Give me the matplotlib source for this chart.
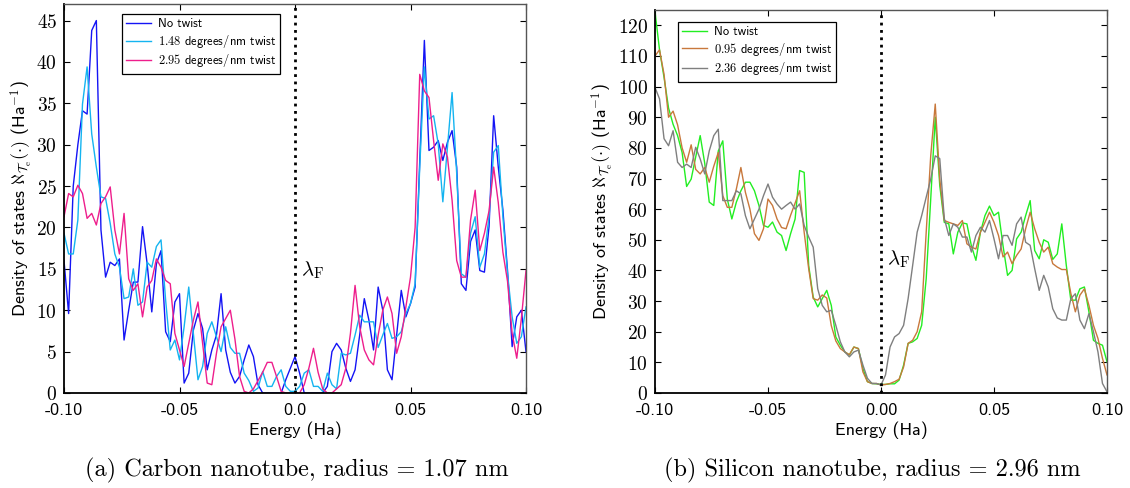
import matplotlib
matplotlib.use("Agg")
import matplotlib.pyplot as plt
import numpy as np

plt.rcParams['mathtext.fontset'] = 'cm'

# energy grid (Ha), 101 bins from -0.1 to 0.1
energy = np.linspace(-0.1, 0.1, 101)

# carbon nanotube, radius 1.07 nm
carbon_no_twist = [
  16.0, 9.6, 25.0, 30.0, 34.1, 33.7, 43.8, 45.0, 19.7, 14.0,
  15.8, 15.4, 16.2, 6.4, 10.0, 13.4, 13.4, 20.1, 15.6, 9.8,
  15.6, 17.2, 7.4, 6.2, 11.0, 12.0, 1.2, 2.4, 7.6, 9.6,
  7.8, 2.8, 5.2, 7.0, 12.0, 5.2, 2.5, 1.2, 2.0, 4.0,
  5.8, 4.4, 1.0, 0.0, 0.0, 0.0, 0.0, 0.0, 1.6, 3.0,
  4.4, 2.4, 0.0, 0.0, 0.0, 0.0, 0.0, 0.8, 5.0, 6.0,
  5.2, 3.0, 1.4, 2.8, 7.0, 11.4, 8.8, 5.2, 12.8, 10.0,
  2.8, 1.6, 7.0, 12.4, 9.2, 10.8, 12.8, 28.0, 42.6, 29.3,
  29.7, 30.5, 28.1, 30.3, 31.7, 27.3, 13.2, 12.4, 18.3, 19.7,
  14.8, 14.6, 20.1, 33.5, 27.3, 22.1, 14.8, 5.6, 9.2, 10.0,
  5.0]
carbon_148 = [
  19.3, 16.8, 16.8, 20.9, 34.9, 39.4, 31.3, 27.3, 23.7, 23.5,
  20.5, 16.8, 15.2, 11.4, 11.6, 15.0, 10.6, 11.0, 15.8, 15.2,
  17.7, 18.5, 11.2, 5.2, 6.4, 4.0, 8.0, 12.8, 7.2, 1.6,
  3.2, 7.2, 8.6, 6.8, 5.0, 8.0, 5.5, 4.8, 4.8, 2.4,
  1.5, 0.2, 0.6, 2.6, 0.8, 0.8, 2.0, 2.8, 0.8, 0.2,
  0.2, 0.8, 2.4, 2.8, 0.8, 0.8, 0.2, 2.4, 1.0, 0.5,
  4.8, 4.6, 4.8, 7.0, 9.4, 8.6, 8.6, 8.6, 5.5, 7.0,
  8.4, 6.6, 6.8, 7.4, 9.6, 10.8, 13.2, 27.3, 39.4, 33.1,
  33.5, 30.1, 23.1, 29.7, 36.3, 26.5, 14.4, 14.0, 19.3, 21.3,
  15.2, 16.8, 21.3, 29.1, 29.9, 21.3, 14.4, 9.2, 6.0, 6.8,
  10.4]
carbon_295 = [
  21.3, 24.1, 23.7, 25.1, 24.1, 21.1, 21.7, 20.3, 22.9, 23.7,
  24.9, 19.7, 16.8, 21.7, 13.8, 12.4, 13.2, 9.2, 12.8, 13.6,
  16.2, 15.2, 13.6, 13.2, 7.2, 5.2, 3.2, 6.0, 8.8, 11.0,
  6.0, 1.2, 1.0, 4.8, 8.0, 9.0, 10.0, 6.5, 2.0, 0.2,
  0.0, 0.5, 1.5, 2.5, 3.7, 3.7, 2.0, 0.2, 0.0, 0.0,
  0.0, 0.0, 1.0, 3.0, 5.4, 2.5, 0.5, 0.0, 0.0, 0.5,
  1.0, 3.0, 7.2, 13.0, 8.0, 5.2, 4.0, 3.4, 7.0, 10.0,
  11.6, 9.6, 4.8, 6.8, 10.4, 14.0, 20.0, 38.5, 36.5, 35.7,
  30.5, 25.7, 30.1, 28.5, 23.3, 16.0, 14.0, 14.0, 20.9, 24.5,
  17.2, 19.3, 22.0, 27.3, 23.0, 17.0, 13.5, 7.2, 4.2, 9.0,
  14.8]

# silicon nanotube, radius 2.96 nm
silicon_no_twist = [
  124.5, 112.0, 103.0, 93.0, 87.7, 84.0, 78.5, 67.4, 69.8, 77.0,
  84.0, 75.0, 62.3, 61.2, 79.0, 82.3, 63.3, 56.8, 62.3, 66.0,
  68.8, 68.8, 66.0, 61.2, 54.7, 54.1, 55.8, 52.5, 51.4, 46.5,
  52.0, 56.8, 72.6, 72.0, 41.6, 31.3, 28.1, 30.8, 33.5, 28.6,
  18.3, 15.6, 13.4, 12.4, 15.0, 14.5, 8.0, 3.7, 3.1, 3.0,
  2.8, 2.8, 3.0, 3.0, 4.2, 9.1, 16.2, 16.7, 17.8, 22.1,
  37.3, 63.3, 90.0, 67.7, 55.7, 55.2, 45.4, 52.5, 55.5, 55.2,
  48.0, 43.3, 52.5, 57.9, 61.0, 57.9, 59.0, 48.0, 38.4, 40.0,
  50.3, 52.5, 57.9, 62.8, 46.5, 43.8, 50.0, 49.2, 43.6, 45.4,
  55.2, 41.6, 30.3, 30.3, 34.0, 34.6, 26.5, 17.2, 16.2, 15.6,
  10.2]
silicon_095 = [
  110.0, 112.0, 104.0, 90.0, 92.0, 87.5, 80.0, 75.3, 81.0, 73.0,
  71.5, 73.6, 68.8, 74.0, 78.5, 64.4, 60.6, 60.6, 66.6, 73.6,
  65.5, 60.0, 52.0, 49.8, 53.6, 63.3, 61.2, 56.8, 54.0, 53.6,
  58.0, 62.0, 66.0, 52.5, 40.6, 30.8, 30.3, 32.0, 31.0, 22.0,
  17.0, 14.5, 13.4, 12.5, 15.0, 14.5, 6.9, 3.7, 3.1, 3.1,
  2.6, 2.8, 3.1, 3.7, 4.5, 8.5, 16.2, 17.2, 20.0, 26.5,
  52.5, 77.4, 94.3, 69.8, 56.3, 55.7, 55.2, 54.7, 56.3, 48.7,
  47.6, 47.0, 52.5, 55.7, 59.0, 55.7, 51.4, 44.4, 46.0, 42.2,
  44.9, 47.0, 53.6, 59.0, 53.6, 49.2, 46.0, 47.6, 42.2, 41.1,
  40.3, 40.3, 32.5, 26.5, 31.9, 34.0, 28.6, 22.1, 17.8, 11.3,
  5.9]
silicon_236 = [
  99.7, 96.0, 83.0, 80.7, 85.6, 75.3, 73.6, 74.7, 73.6, 80.2,
  76.4, 71.5, 79.0, 84.0, 86.1, 62.8, 62.8, 62.8, 66.0, 65.0,
  57.9, 53.6, 56.8, 60.0, 64.4, 68.2, 63.9, 61.7, 60.0, 61.2,
  62.3, 60.0, 61.7, 54.7, 50.9, 47.6, 34.0, 28.6, 26.5, 27.0,
  22.1, 16.7, 13.4, 11.8, 13.4, 14.0, 9.1, 4.8, 3.1, 3.1,
  2.6, 5.9, 15.0, 18.3, 19.4, 22.1, 30.8, 41.6, 52.5, 57.9,
  63.9, 69.8, 77.4, 76.5, 57.0, 51.4, 55.2, 54.1, 50.9, 50.9,
  46.0, 51.4, 54.1, 52.5, 56.3, 50.3, 43.8, 51.4, 51.4, 48.2,
  55.2, 57.4, 49.2, 48.2, 40.6, 33.5, 38.4, 34.6, 27.5, 24.5,
  23.8, 23.8, 30.8, 32.4, 23.8, 21.0, 25.9, 20.0, 13.4, 3.1,
  0.4]

carbon_labels = ['No twist', r'$1.48$ degrees/nm twist', r'$2.95$ degrees/nm twist']
silicon_labels = ['No twist', r'$0.95$ degrees/nm twist', r'$2.36$ degrees/nm twist']
carbon_colors = ['#1414f5', '#14b4f0', '#ee1e8c']
silicon_colors = ['#22ee22', '#c8783c', '#7f7f7f']

xtick_vals = [-0.10, -0.05, 0.0, 0.05, 0.10]


def drawPanel(ax, ys, labels, colors, ymax, ystep, xticklabels, lam_y, leg_anchor):
  for y, lab, c in zip(ys, labels, colors):
    ax.plot(energy, y, '-', color=c, lw=1.0, label=lab)
  ax.axvline(0.0, color='k', ls=':', lw=2.0, zorder=5)
  ax.text(0.0025, lam_y, r'$\lambda_{\mathrm{F}}$', fontsize=15, va='center', ha='left')
  ax.set_xlim(-0.1, 0.1)
  ax.set_ylim(0, ymax)
  ax.set_xticks(xtick_vals)
  ax.set_xticklabels(xticklabels, fontfamily='cmss10', fontsize=13)
  yt = np.arange(0, ymax, ystep)
  ax.set_yticks(yt)
  ax.set_yticklabels([r'$%d$' % v for v in yt], fontsize=14)
  ax.tick_params(direction='in', top=True, right=True, length=4, width=0.8)
  ax.tick_params(axis='x', pad=7)
  ax.tick_params(axis='y', pad=5)
  for s in ['left', 'bottom']:
    ax.spines[s].set_color('k')
    ax.spines[s].set_linewidth(1.3)
  for s in ['top', 'right']:
    ax.spines[s].set_color('#555555')
    ax.spines[s].set_linewidth(1.0)
  ax.set_xlabel('Energy (Ha)', fontfamily='cmss10', fontsize=13, labelpad=3)
  ax.set_ylabel(r'Density of states $\aleph_{\mathcal{T}_{\mathrm{e}}}(\cdot)$ (Ha$^{-1}$)',
                fontfamily='cmss10', fontsize=13, labelpad=2)
  leg = ax.legend(loc='upper left', bbox_to_anchor=leg_anchor, borderaxespad=0,
                  prop={'family': 'cmss10', 'size': 9}, fancybox=False,
                  framealpha=1, edgecolor='k', handlelength=2.0,
                  borderpad=0.35, labelspacing=0.2, handletextpad=0.5)
  leg.get_frame().set_linewidth(0.9)


fig = plt.figure(figsize=(11.3, 4.88), dpi=100)
ax1 = fig.add_axes([64/1130, 1-393/488, 462/1130, 389/488])
ax2 = fig.add_axes([655/1130, 1-393/488, 452/1130, 383/488])

drawPanel(ax1, [carbon_no_twist, carbon_148, carbon_295], carbon_labels, carbon_colors,
          47, 5, ['-0.10', '-0.05', '0.0', '0.05', '0.10'], 14.8, (0.1255, 0.974))
drawPanel(ax2, [silicon_no_twist, silicon_095, silicon_236], silicon_labels, silicon_colors,
          125, 10, ['-0.10', '-0.05', '0.00', '0.05', '0.10'], 43.6, (0.051, 0.969))

fig.text(297/1130, 0.037, '(a) Carbon nanotube, radius = 1.07 nm', fontfamily='cmr10',
         fontsize=17.5, ha='center', va='center')
fig.text(872/1130, 0.037, '(b) Silicon nanotube, radius = 2.96 nm', fontfamily='cmr10',
         fontsize=17.5, ha='center', va='center')

fig.savefig('out.png', dpi=100)
